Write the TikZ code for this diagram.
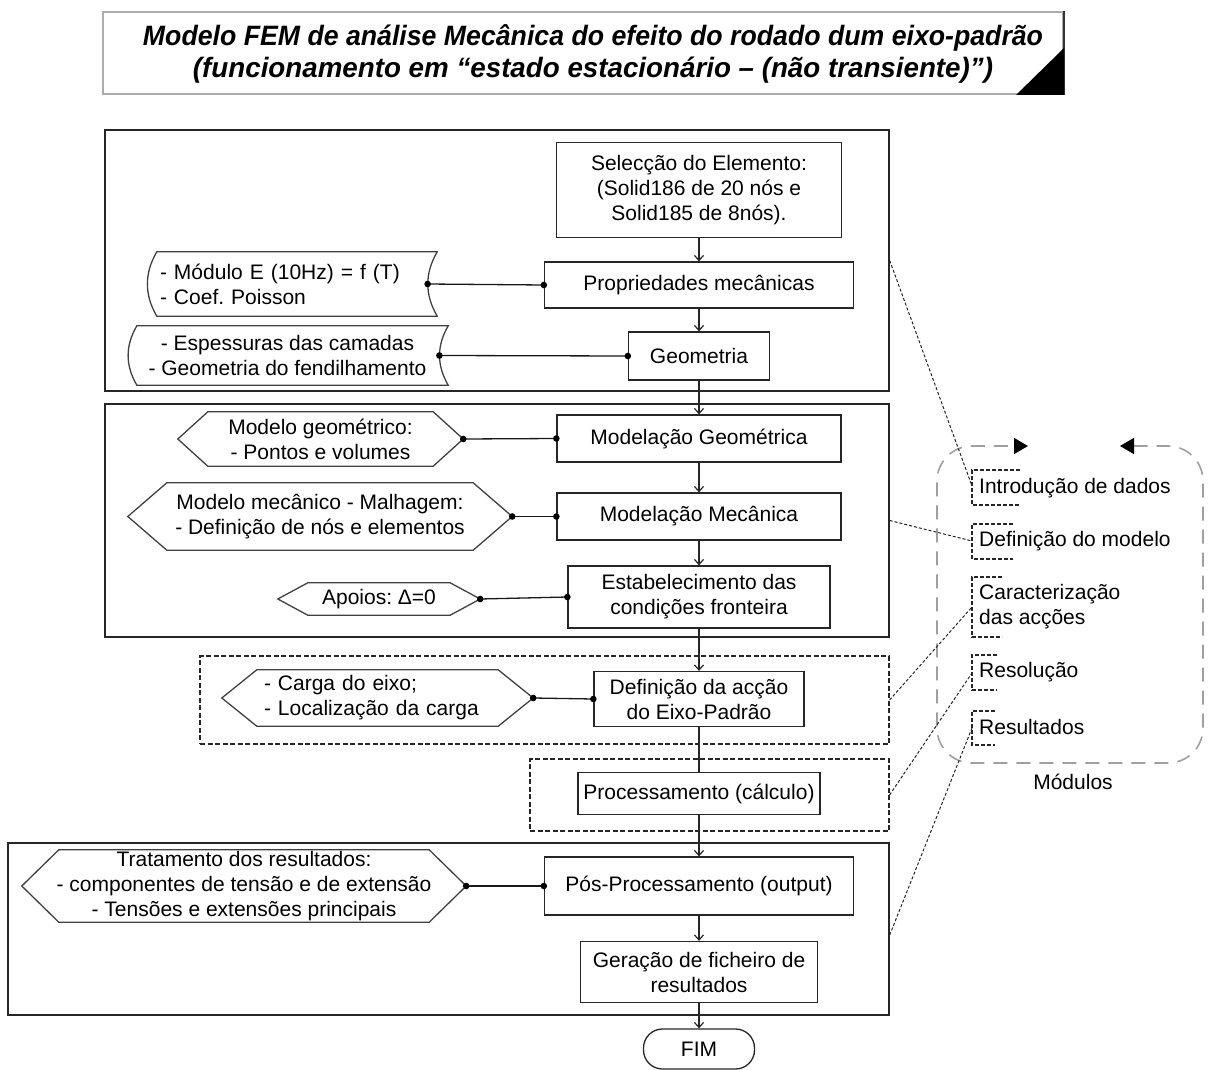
\documentclass[tikz,border=0pt]{standalone}
\usepackage{fontspec}
\setmainfont{Liberation Sans}
\usepackage{graphicx}
\usetikzlibrary{arrows.meta,calc}
\frenchspacing
\newcommand\hexout[2]{\draw[shapeline] (#1.west) -- ([xshift=#2]#1.north west) -- ([xshift=-#2]#1.north east) -- (#1.east) -- ([xshift=-#2]#1.south east) -- ([xshift=#2]#1.south west) -- cycle;}
\newcommand\sdout[1]{\draw[shapeline] ([xshift=10pt]#1.north west) -- (#1.north east) to[out=240,in=120] (#1.south east) -- ([xshift=10pt]#1.south west) to[out=120,in=240] ([xshift=10pt]#1.north west) -- cycle;}
\begin{document}
\frenchspacing
\begin{tikzpicture}[x=1pt,y=-1pt,
  every node/.style={font=\fontsize{21}{25}\selectfont, inner sep=0pt, text=black},
  stepbox/.style={draw=black!85, line width=1.3pt, align=center, inner sep=0pt},
  frameA/.style={draw=black!85, line width=1.4pt},
  frameD/.style={draw=black!85, line width=1.1pt, dash pattern=on 5pt off 2.5pt},
  flow/.style={line width=1.2pt, draw=black!85, -{Straight Barb[length=5pt,width=9pt]}},
  plain/.style={line width=1.2pt, draw=black!85},
  link/.style={line width=1.3pt, draw=black!90},
  dotl/.style={line width=1pt, draw=black!85, dash pattern=on 3pt off 2pt},
  brk/.style={line width=1.1pt, draw=black!85, dash pattern=on 4pt off 2pt},
  modb/.style={draw=gray!75, line width=1.6pt, dash pattern=on 14pt off 9pt, rounded corners=35pt},
  shapeline/.style={draw=black!75, line width=1.3pt},
  sidebox/.style={draw=none, inner sep=0pt}
]
\useasboundingbox (0,0) rectangle (1210,1070);

% title
\node[draw=gray!65, line width=2pt, minimum width=960, minimum height=82] (tbox) at (583,53) {};
\draw[line width=1.5pt, black!80] (tbox.north east) -- (tbox.south east);
\fill[black] (tbox.south east) -- ++(-48,0) -- ($(tbox.south east)+(0,-47)$) -- cycle;
\node[align=center, font=\fontsize{28}{32}\selectfont\bfseries\itshape] (title) at (593,54)
  {\resizebox{900pt}{\height}{Modelo FEM de análise Mecânica do efeito do rodado dum eixo-padrão}\\
   \resizebox{800pt}{\height}{(funcionamento em “estado estacionário – (não transiente)”)}};

% frames
\node[frameA, minimum width=784, minimum height=261] (f1) at (497,260.5) {};
\node[frameA, minimum width=784, minimum height=233] (f2) at (497,520.5) {};
\node[frameD, minimum width=689, minimum height=88] (f3) at (544.5,700) {};
\node[frameD, minimum width=359, minimum height=72] (f4) at (709.5,795) {};
\node[frameA, minimum width=881, minimum height=172] (f5) at (448.5,929) {};

% main column
\node[stepbox, minimum width=285, minimum height=95] (sel) at (699,190) {Selecção do Elemento:\\(Solid186 de 20 nós e\\Solid185 de 8nós).};
\node[stepbox, minimum width=309, minimum height=46] (prop) at (699,285) {Propriedades mecânicas};
\node[stepbox, minimum width=141, minimum height=48] (geom) at (699,356) {Geometria};
\node[stepbox, minimum width=284, minimum height=47] (mg) at (699,438.5) {Modelação Geométrica};
\node[stepbox, minimum width=284, minimum height=47] (mm) at (699,516.5) {Modelação Mecânica};
\node[stepbox, minimum width=262, minimum height=62] (est) at (699,597) {Estabelecimento das\\condições fronteira};
\node[stepbox, minimum width=210, minimum height=55] (acc) at (699,699) {Definição da acção\\do Eixo-Padrão};
\node[stepbox, minimum width=242, minimum height=42] (proc) at (699,793.5) {Processamento (cálculo)};
\node[stepbox, minimum width=309, minimum height=58] (pos) at (699,886) {Pós-Processamento (output)};
\node[stepbox, minimum width=237, minimum height=61] (ger) at (699,972) {Geração de ficheiro de\\resultados};
\node[stepbox, minimum width=111, minimum height=40, rounded corners=19pt] (fim) at (699,1049) {FIM};

\draw[flow] (sel) -- (prop);
\draw[flow] (prop) -- (geom);
\draw[flow] (geom) -- (mg);
\draw[flow] (mg) -- (mm);
\draw[flow] (mm) -- (est);
\draw[flow] (est) -- (acc);
\draw[plain] (acc) -- (proc);
\draw[flow] (proc) -- (pos);
\draw[flow] (pos) -- (ger);
\draw[flow] (ger) -- (fim);

% stored data shapes
\node[sidebox, minimum width=290, minimum height=64, text width=264, align=left] (sd1) at (292,284) {- Módulo E (10Hz) = f (T)\\- Coef. Poisson};
\sdout{sd1}
\node[sidebox, minimum width=321, minimum height=59, align=center] (sd2) at (287.5,355.5) {- Espessuras das camadas\\- Geometria do fendilhamento};
\sdout{sd2}
\coordinate (sd1p) at ([xshift=-9.6pt]sd1.east);
\coordinate (sd2p) at ([xshift=-8.8pt]sd2.east);

% hexagons
\node[sidebox, minimum width=285, minimum height=54, align=center] (h1) at (320.5,439) {Modelo geométrico:\\- Pontos e volumes};
\hexout{h1}{30}
\node[sidebox, minimum width=384, minimum height=67, align=center] (h2) at (320,516.5) {Modelo mecânico - Malhagem:\\- Definição de nós e elementos};
\hexout{h2}{39}
\node[sidebox, minimum width=202, minimum height=32, align=center] (h3) at (379,599) {Apoios: Δ=0};
\hexout{h3}{30}
\node[sidebox, minimum width=311, minimum height=56, text width=242, align=left] (h4) at (385,698) {- Carga do eixo;\\- Localização da carga};
\coordinate (h4c) at (377.5,698);
\node[sidebox, minimum width=311, minimum height=56] (h4s) at (h4c) {};
\hexout{h4s}{35}
\node[sidebox, minimum width=444, minimum height=72, align=center] (h5) at (244,886) {Tratamento dos resultados:\\- componentes de tensão e de extensão\\- Tensões e extensões principais};
\hexout{h5}{37}

% side links with dots
\foreach \a/\b in {sd1p/prop.west, sd2p/geom.west, h1.east/mg.west, h2.east/mm.west, h3.east/est.west, h4s.east/acc.west, h5.east/pos.west}{
  \draw[link] (\a) -- (\b);
  \fill[black] (\a) circle (3.3pt);
  \fill[black] (\b) circle (3.3pt);
}

% modules panel
\draw[modb, {Triangle[length=14pt,width=16pt,color=black,fill=black]}-{Triangle[length=14pt,width=16pt,color=black,fill=black]}]
  (1120,446) -- (1203,446) -- (1203,763) -- (937,763) -- (937,446) -- (1028,446);
\node (modlbl) at (1073,782) {Módulos};

\node[anchor=west] (m1) at (979,488) {Introdução de dados};
\node[anchor=west] (m2) at (979,541) {Definição do modelo};
\node[anchor=west, align=left] (m3) at (979,606.5) {Caracterização\\das acções};
\node[anchor=west] (m4) at (979,672) {Resolução};
\node[anchor=west] (m5) at (979,727) {Resultados};

\draw[brk] (1020,470) -- (972,470) -- (972,505) -- (1020,505);
\draw[brk] (1013,524) -- (972,524) -- (972,559) -- (1013,559);
\draw[brk] (1002,577) -- (972,577) -- (972,637) -- (1002,637);
\draw[brk] (997,655) -- (972,655) -- (972,690) -- (997,690);
\draw[brk] (995,711) -- (972,711) -- (972,745) -- (995,745);

\coordinate (m1b) at (972,486);
\coordinate (m2b) at (972,541);
\coordinate (m3b) at (972,607);
\coordinate (m4b) at (972,673);
\coordinate (m5b) at (972,728);

\draw[dotl] (f1.east) -- (m1b);
\draw[dotl] (f2.east) -- (m2b);
\draw[dotl] (f3.east) -- (m3b);
\draw[dotl] (f4.east) -- (m4b);
\draw[dotl] ($(f5.east)+(0,6)$) -- (m5b);
\end{tikzpicture}
\end{document}
